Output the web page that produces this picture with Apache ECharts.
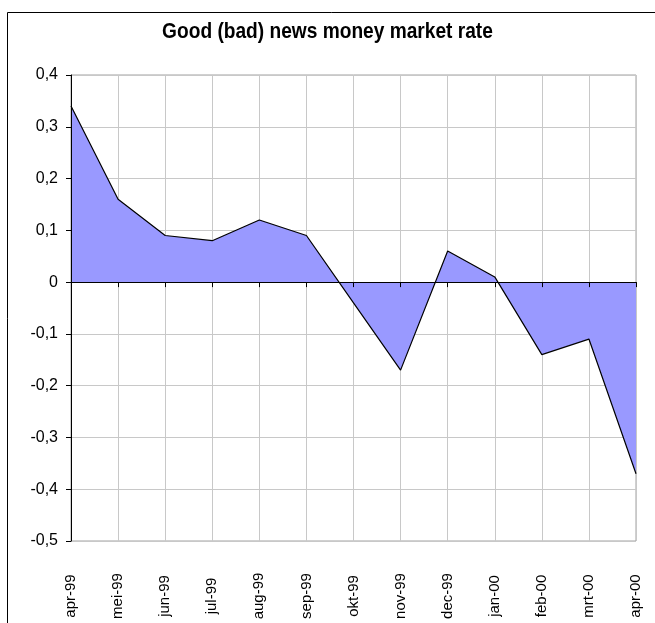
<!DOCTYPE html>
<html>
<head>
<meta charset="utf-8">
<script src="https://cdn.jsdelivr.net/npm/echarts@6/dist/echarts.min.js"></script>
<style>
  html, body { margin: 0; padding: 0; background: #fff; }
  #chart { width: 655px; height: 623px; }
</style>
</head>
<body>
<div id="chart"></div>
<script>
// months shown on the x axis
const months = ['apr-99', 'mei-99', 'jun-99', 'jul-99', 'aug-99', 'sep-99', 'okt-99',
  'nov-99', 'dec-99', 'jan-00', 'feb-00', 'mrt-00', 'apr-00'];
// good (bad) news values
const newsValues = [0.34, 0.16, 0.09, 0.08, 0.12, 0.09, -0.04, -0.17, 0.06, 0.01, -0.14, -0.11, -0.37];
const yTicks = { min: -0.5, max: 0.4, step: 0.1 };

const font = '"Liberation Sans", Arial, sans-serif';
const chart = echarts.init(document.getElementById('chart'), null, { renderer: 'canvas' });

const fmt = v => {
  const r = Math.round(v * 10) / 10;
  return r === 0 ? '0' : r.toFixed(1).replace('.', ',');
};

chart.setOption({
  animation: false,
  graphic: [
    { type: 'rect', shape: { x: 7.5, y: 12.5, width: 700, height: 700 },
      style: { fill: 'none', stroke: '#000', lineWidth: 1 }, z: -1 },
    { type: 'text', x: 327.5, y: 32, scaleX: 0.87, originX: 0,
      style: { text: 'Good (bad) news money market rate', font: 'bold 22px ' + font,
        fill: '#000', align: 'center', verticalAlign: 'middle' } }
  ],
  grid: { left: 71, right: 19, top: 75, bottom: 82, show: true, borderColor: '#a0a0a0', borderWidth: 1 },
  xAxis: [
    {
      // zero line with ticks, drawn above the area
      type: 'category', data: months, boundaryGap: false,
      axisLine: { onZero: true, lineStyle: { color: '#000', width: 1 } },
      axisTick: { show: true, interval: 0, length: 5, lineStyle: { color: '#000' } },
      axisLabel: { show: false, interval: 0 },
      splitLine: { show: false },
      z: 5
    },
    {
      // labels at the bottom + vertical grid, under the area
      type: 'category', data: months, boundaryGap: false, position: 'bottom',
      axisLine: { show: false, onZero: false }, axisTick: { show: false },
      splitLine: { show: true, interval: 0, lineStyle: { color: '#c8c8c8', width: 1 } },
      axisLabel: { interval: 0, rotate: 90, align: 'center', verticalAlign: 'middle', margin: 55,
        fontFamily: font, fontSize: 15, color: '#000' }
    }
  ],
  yAxis: [
    {
      type: 'value', min: yTicks.min, max: yTicks.max, interval: yTicks.step,
      axisLine: { show: false },
      axisTick: { show: true, length: 5, lineStyle: { color: '#000' } },
      axisLabel: { formatter: fmt, margin: 13, fontFamily: font, fontSize: 16, color: '#000' },
      splitLine: { show: true, lineStyle: { color: '#c8c8c8', width: 1 } }
    },
    {
      // black left axis line above the area
      type: 'value', position: 'left', min: yTicks.min, max: yTicks.max, interval: yTicks.step,
      axisLine: { show: true, onZero: false, lineStyle: { color: '#000', width: 1 } },
      axisTick: { show: false }, axisLabel: { show: false }, splitLine: { show: false },
      z: 5
    }
  ],
  series: [{
    type: 'line', data: newsValues, xAxisIndex: 0, yAxisIndex: 0,
    symbol: 'none', smooth: false,
    lineStyle: { color: '#000', width: 1.2 },
    areaStyle: { color: '#9999ff', opacity: 1 },
    z: 3
  }]
});
</script>
</body>
</html>
